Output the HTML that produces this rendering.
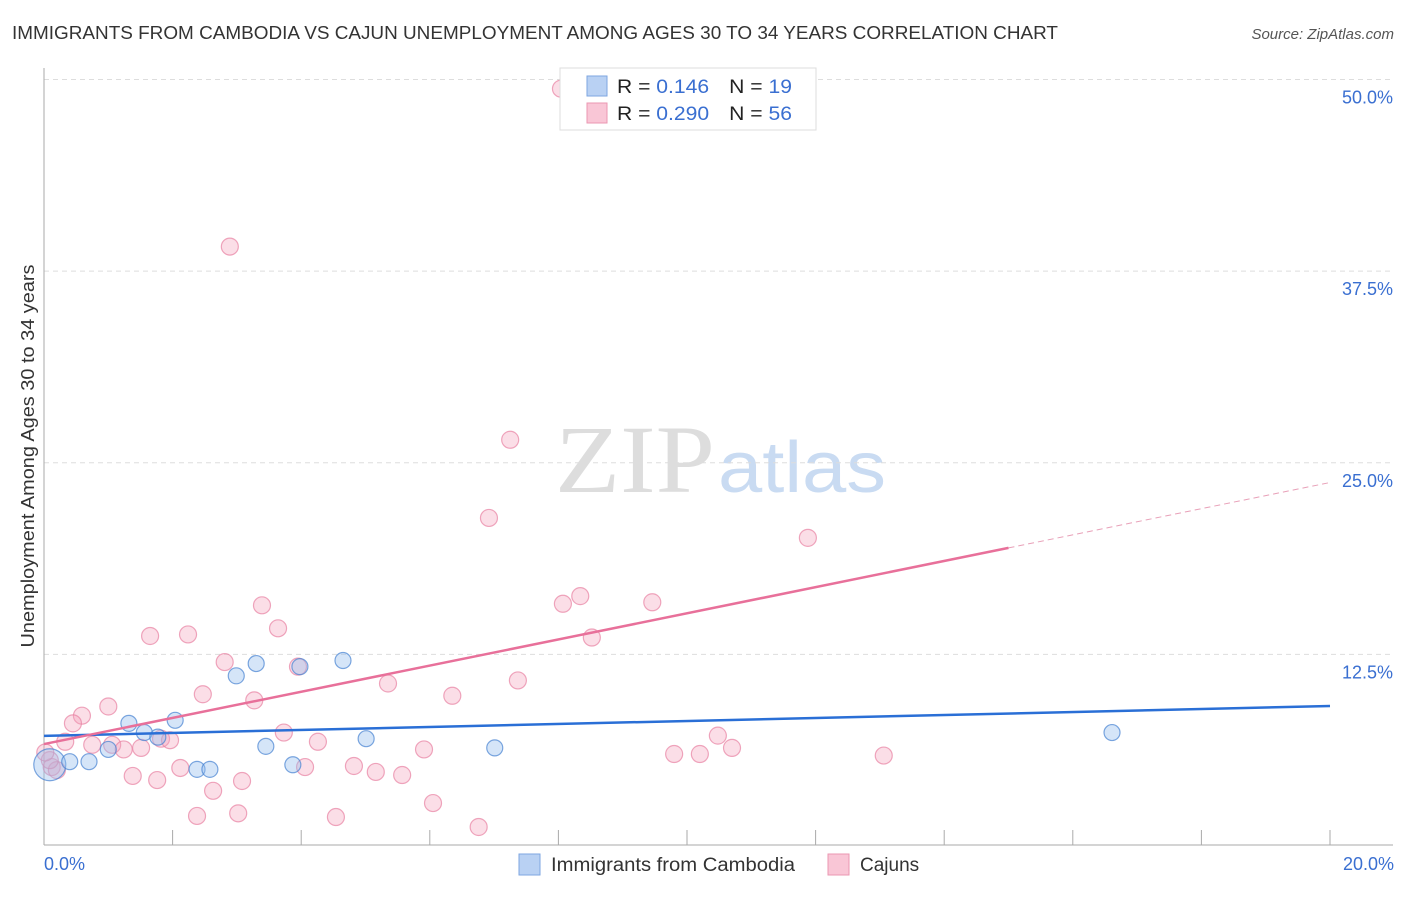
<!DOCTYPE html>
<html><head><meta charset="utf-8"><style>
body{margin:0;background:#fff;font-family:"Liberation Sans",sans-serif}
svg text{font-family:"Liberation Sans",sans-serif}
</style></head><body>
<svg id="chart" width="1406" height="892" xmlns="http://www.w3.org/2000/svg">
<text x="12" y="39" font-size="18" fill="#333" textLength="1046" lengthAdjust="spacingAndGlyphs">IMMIGRANTS FROM CAMBODIA VS CAJUN UNEMPLOYMENT AMONG AGES 30 TO 34 YEARS CORRELATION CHART</text>
<text x="1394" y="39" font-size="15" fill="#555" font-style="italic" text-anchor="end">Source: ZipAtlas.com</text>
<text x="555" y="492" font-size="96" fill="#ddd" textLength="160" lengthAdjust="spacingAndGlyphs" style="font-family:'Liberation Serif',serif">ZIP</text>
<text x="718" y="492" font-size="72" fill="#c9dbf2" textLength="168" lengthAdjust="spacingAndGlyphs">atlas</text>
<g id="grid"></g><g id="axes"></g><g id="points"></g><g id="lines"></g>
<text transform="translate(34,456) rotate(-90)" font-size="18" fill="#333" text-anchor="middle" textLength="383" lengthAdjust="spacingAndGlyphs">Unemployment Among Ages 30 to 34 years</text>
<text x="44" y="870" font-size="18" fill="#3a6fd1">0.0%</text>
<text x="1394" y="870" font-size="18" fill="#3a6fd1" text-anchor="end">20.0%</text>
<g>
<rect x="560" y="68" width="256" height="62" fill="#fff" stroke="#ddd"/>
<rect x="587" y="76" width="20" height="20" fill="#b9d1f3" stroke="#7ea6e0"/>
<rect x="587" y="103" width="20" height="20" fill="#f9c6d6" stroke="#eb97b2"/>
<text x="617" y="93" font-size="19" fill="#222" textLength="175" lengthAdjust="spacingAndGlyphs">R = <tspan fill="#3a6fd1"> 0.146</tspan><tspan dx="18">N = </tspan><tspan fill="#3a6fd1"> 19</tspan></text>
<text x="617" y="120" font-size="19" fill="#222" textLength="175" lengthAdjust="spacingAndGlyphs">R = <tspan fill="#3a6fd1">0.290</tspan><tspan dx="18">N = </tspan><tspan fill="#3a6fd1">56</tspan></text>
</g>
<g>
<rect x="519" y="854" width="21" height="21" fill="#b9d1f3" stroke="#7ea6e0"/>
<text x="551" y="871" font-size="19" fill="#333" textLength="244" lengthAdjust="spacingAndGlyphs">Immigrants from Cambodia</text>
<rect x="828" y="854" width="21" height="21" fill="#f9c6d6" stroke="#eb97b2"/>
<text x="860" y="871" font-size="19" fill="#333">Cajuns</text>
</g>
</svg>
<script>
const yTicks=[12.5,25,37.5,50];
const yTickLabels=["12.5%","25.0%","37.5%","50.0%"];
const xTicks=[2,4,6,8,10,12,14,16,18,20];
const blueX=[0.09,0.40,0.70,1.00,1.32,1.56,1.77,2.04,2.38,2.58,2.99,3.30,3.45,3.87,3.98,4.65,5.01,7.01,16.61];
const blueY=[5.3,5.5,5.5,6.3,8.0,7.4,7.1,8.2,5.0,5.0,11.1,11.9,6.5,5.3,11.7,12.1,7.0,6.4,7.4];
const blueR=[16,8,8,8,8,8,8,8,8,8,8,8,8,8,8,8,8,8,8];
const pinkX=[8.04,2.89,7.25,6.92,11.88,8.34,8.07,9.46,3.39,3.64,1.65,2.24,8.52,2.81,3.95,5.35,7.37,6.35,2.47,3.27,1.00,0.59,0.45,0.33,0.75,1.06,1.24,1.51,1.82,1.96,3.73,4.26,10.48,10.70,5.91,9.80,10.20,13.06,0.12,0.20,1.38,1.76,2.12,3.08,4.06,4.82,5.16,5.57,2.63,6.05,3.02,2.38,4.54,6.76,0.09,0.02];
const pinkY=[49.4,39.1,26.5,21.4,20.1,16.3,15.8,15.9,15.7,14.2,13.7,13.8,13.6,11.997,11.7,10.6,10.8,9.8,9.9,9.5,9.1,8.5,8.0,6.8,6.6,6.6,6.3,6.4,7.0,6.9,7.4,6.8,7.2,6.4,6.3,6.0,6.0,5.9,5.15,4.95,4.57,4.3,5.09,4.24,5.15,5.22,4.83,4.63,3.6,2.8,2.13,1.96,1.89,1.24,5.6,6.1];
const blueTrend=[7.18,9.13];
const pinkTrend=[6.65,0.853];
const pinkSolidEnd=15, xMax=20;
const NS="http://www.w3.org/2000/svg";
const X=v=>44+v*64.3, Y=v=>846-v*15.33;
function mk(parent,tag,attrs){const e=document.createElementNS(NS,tag);for(const k in attrs)e.setAttribute(k,attrs[k]);document.getElementById(parent).appendChild(e);return e;}
yTicks.forEach((t,i)=>{
 const l=mk('grid','line',{x1:44,x2:1393,y1:Y(t),y2:Y(t),stroke:'#ddd','stroke-dasharray':'5,4'});
 
 
 const tx=mk('grid','text',{x:1393,y:Y(t)+24,'font-size':18,fill:'#3a6fd1','text-anchor':'end'});
 tx.textContent=yTickLabels[i];
 
 
});
let a=mk('axes','line',{x1:44,x2:44,y1:68,y2:845,stroke:'#aaa'});


a=mk('axes','line',{x1:44,x2:1393,y1:845,y2:845,stroke:'#aaa'});


xTicks.forEach(t=>{
 const l=mk('axes','line',{x1:X(t),x2:X(t),y1:830,y2:845,stroke:'#aaa'});
 
 
});
pinkX.forEach((x,i)=>{
 const c=mk('points','circle',{cx:X(x),cy:Y(pinkY[i]),r:8.5,fill:'rgba(244,160,187,0.35)',stroke:'rgba(232,130,163,0.7)','stroke-width':1.2});
 
 
});
blueX.forEach((x,i)=>{
 const c=mk('points','circle',{cx:X(x),cy:Y(blueY[i]),r:blueR[i],fill:'rgba(150,190,238,0.4)',stroke:'rgba(70,130,210,0.7)','stroke-width':1.2});
 
 
});
let t=mk('lines','line',{x1:X(0),y1:Y(blueTrend[0]),x2:X(xMax),y2:Y(blueTrend[1]),stroke:'#2a6fd6','stroke-width':2.5});


const pv=x=>pinkTrend[0]+pinkTrend[1]*x;
t=mk('lines','line',{x1:X(0),y1:Y(pv(0)),x2:X(pinkSolidEnd),y2:Y(pv(pinkSolidEnd)),stroke:'#e8709a','stroke-width':2.5});


t=mk('lines','line',{x1:X(pinkSolidEnd),y1:Y(pv(pinkSolidEnd)),x2:X(xMax),y2:Y(pv(xMax)),stroke:'#e8a0b8','stroke-width':1,'stroke-dasharray':'6,4'});


</script>
</body></html>
